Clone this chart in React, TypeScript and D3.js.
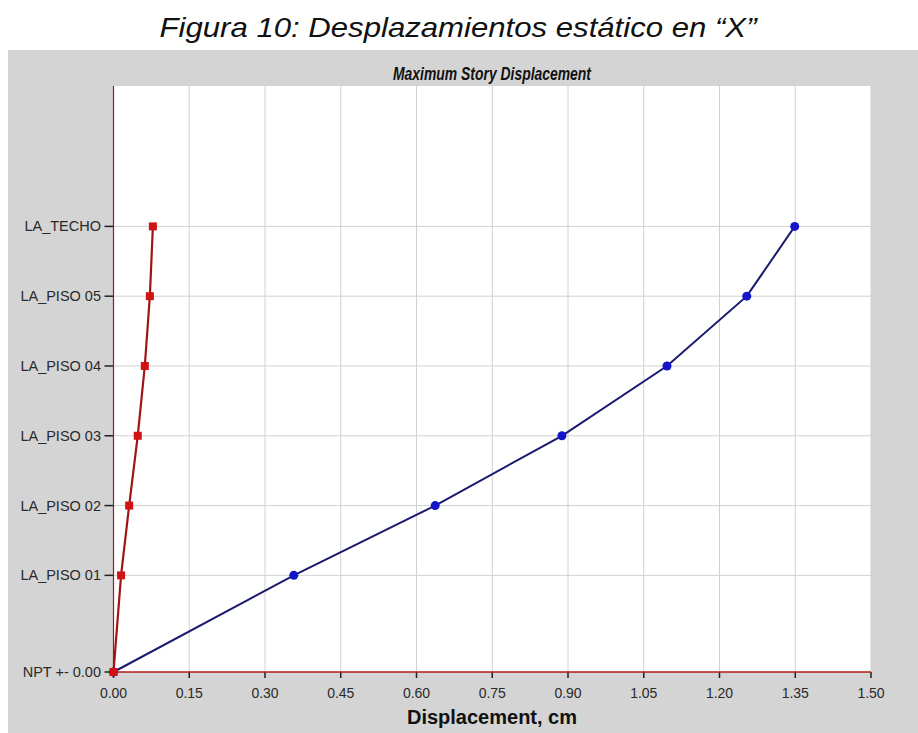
import React from "react";
import * as d3 from "d3";

const stories = ["NPT +- 0.00", "LA_PISO 01", "LA_PISO 02", "LA_PISO 03", "LA_PISO 04", "LA_PISO 05", "LA_TECHO"];
const elevations = [0, 3.6, 6.2, 8.8, 11.4, 14.0, 16.6];
const blueValues = [0, 0.357, 0.637, 0.888, 1.096, 1.254, 1.349];
const redValues = [0, 0.015, 0.031, 0.048, 0.062, 0.072, 0.078];
const xTicks = [0, 0.15, 0.3, 0.45, 0.6, 0.75, 0.9, 1.05, 1.2, 1.35, 1.5];

const W = 918, H = 733;
const plot = { left: 113.5, right: 871, top: 86, bottom: 672 };

export default function App() {
  const x = d3.scaleLinear().domain([0, 1.5]).range([plot.left, plot.right]);
  const y = d3.scaleLinear().domain([0, 21.83]).range([plot.bottom, plot.top]);
  const line = d3.line<[number, number]>().x(d => x(d[0])).y(d => y(d[1]));
  const blue = blueValues.map((v, i) => [v, elevations[i]] as [number, number]);
  const red = redValues.map((v, i) => [v, elevations[i]] as [number, number]);
  const font = "'Liberation Sans', Arial, sans-serif";
  return (
    <svg width={W} height={H} style={{ position: "absolute", left: 0, top: 0, background: "#fff" }}>
      <text x={458} y={37} textAnchor="middle" fontFamily={font} fontStyle="italic" fontSize={28} fill="#111" textLength={597} lengthAdjust="spacingAndGlyphs">
        Figura 10: Desplazamientos estático en “X”
      </text>
      <rect x={8} y={50} width={W - 8} height={H - 50} fill="#d4d4d4" />
      <rect x={plot.left} y={plot.top} width={plot.right - plot.left} height={plot.bottom - plot.top} fill="#fff" />
      <text x={492} y={80} textAnchor="middle" fontFamily={font} fontWeight="bold" fontStyle="italic" fontSize={18} fill="#111" textLength={198} lengthAdjust="spacingAndGlyphs">
        Maximum Story Displacement
      </text>
      {xTicks.map((t, i) => (
        <g key={"xt" + i}>
          {i > 0 && <line x1={x(t)} x2={x(t)} y1={plot.top} y2={plot.bottom} stroke="#d2d2d2" strokeWidth={1} />}
          <line x1={x(t)} x2={x(t)} y1={plot.bottom} y2={plot.bottom + 6} stroke="#222" strokeWidth={1.5} />
          <text x={x(t)} y={698} textAnchor="middle" fontFamily={font} fontSize={14} fill="#2a2a2a">
            {t.toFixed(2)}
          </text>
        </g>
      ))}
      {stories.map((s, i) => (
        <g key={"yt" + i}>
          {i > 0 && <line x1={plot.left} x2={plot.right} y1={y(elevations[i])} y2={y(elevations[i])} stroke="#d2d2d2" strokeWidth={1} />}
          <line x1={plot.left - 9} x2={plot.left} y1={y(elevations[i])} y2={y(elevations[i])} stroke="#222" strokeWidth={1.5} />
          <text x={101} y={y(elevations[i]) + 5} textAnchor="end" fontFamily={font} fontSize={14.5} fill="#2a2a2a">
            {s}
          </text>
        </g>
      ))}
      <line x1={plot.left} x2={plot.left} y1={plot.top} y2={plot.bottom} stroke="#a01818" strokeWidth={1.2} />
      <line x1={plot.left} x2={plot.right} y1={plot.bottom} y2={plot.bottom} stroke="#b01c1c" strokeWidth={1.5} />
      <path d={line(blue) || ""} fill="none" stroke="#1a1a70" strokeWidth={2} />
      {blue.map((d, i) => (
        <circle key={"b" + i} cx={x(d[0])} cy={y(d[1])} r={4.5} fill="#1414c8" />
      ))}
      <path d={line(red) || ""} fill="none" stroke="#a01414" strokeWidth={2.2} />
      {red.map((d, i) => (
        <rect key={"r" + i} x={x(d[0]) - 4} y={y(d[1]) - 4} width={8} height={8} fill="#d01414" />
      ))}
      <text x={492} y={724} textAnchor="middle" fontFamily={font} fontWeight="bold" fontSize={20} fill="#111">
        Displacement, cm
      </text>
    </svg>
  );
}
